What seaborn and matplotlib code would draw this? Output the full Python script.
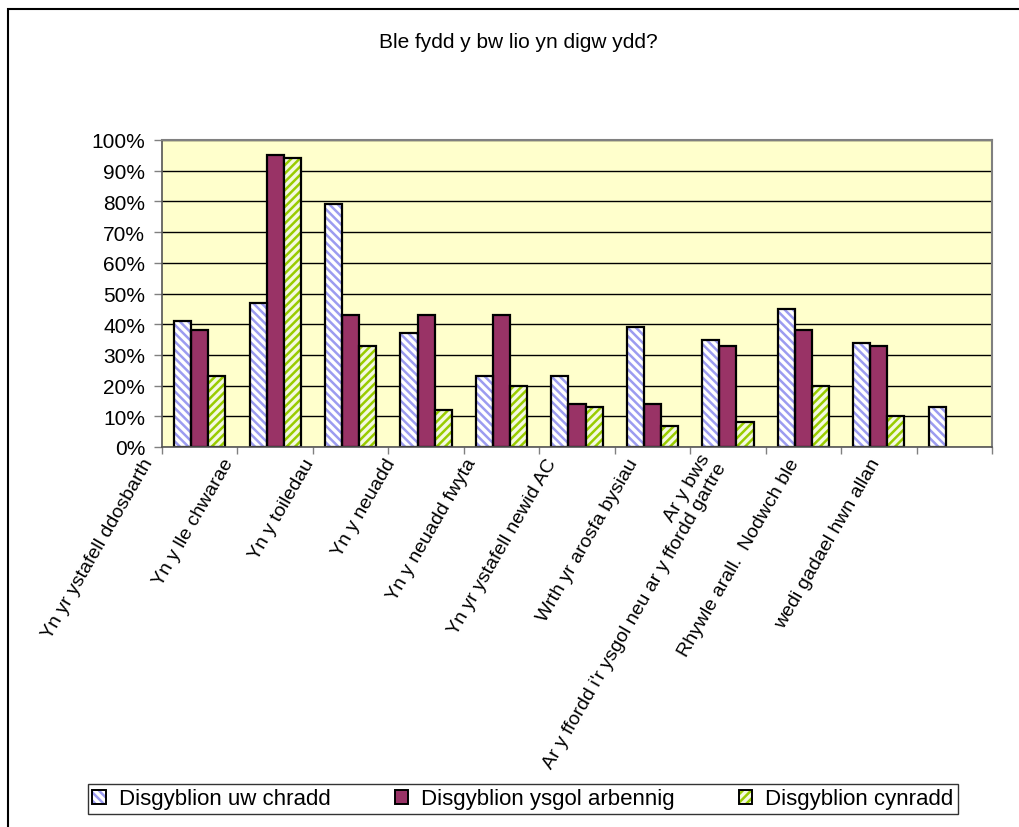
import numpy as np
import pandas as pd
import matplotlib.pyplot as plt
import matplotlib.transforms as mtransforms
from matplotlib.patches import Patch, Rectangle
from matplotlib.legend_handler import HandlerTuple
from matplotlib.ticker import PercentFormatter, FixedLocator
import seaborn as sns

places = [
    'Yn yr ystafell ddosbarth',
    'Yn y lle chwarae',
    'Yn y toiledau',
    'Yn y neuadd',
    'Yn y neuadd fwyta',
    'Yn yr ystafell newid AC',
    'Wrth yr arosfa bysiau',
    "Ar y bws\nAr y ffordd i'r ysgol neu ar y ffordd gartre",
    'Rhywle arall.  Nodwch ble',
    'wedi gadael hwn allan',
    '',
]
groups = ['Disgyblion uw chradd', 'Disgyblion ysgol arbennig', 'Disgyblion cynradd']
uwchradd = [41, 47, 79, 37, 23, 23, 39, 35, 45, 34, 13]
arbennig = [38, 95, 43, 43, 43, 14, 14, 33, 38, 33, np.nan]
cynradd = [23, 94, 33, 12, 20, 13, 7, 8, 20, 10, np.nan]
title = 'Ble fydd y bw lio yn digw ydd?'

# look of each series: face colour, hatch, hatch colour
faces = ['white', '#993366', '#F4F9E0']
hatches = ['\\\\\\\\', None, '////']
hatch_cols = ['#9C9CF0', None, '#99CC00']

df = pd.DataFrame({
    'place': places * 3,
    'pct': uwchradd + arbennig + cynradd,
    'group': np.repeat(groups, len(places)),
})

plt.rcParams['hatch.linewidth'] = 1.8
plt.rcParams['font.family'] = ['Liberation Sans', 'DejaVu Sans']

fig = plt.figure(figsize=(10.2, 8.28), dpi=100)
ax = fig.add_axes([162 / 1020, 1 - 448 / 828, 830 / 1020, 307 / 828])
ax.set_facecolor('#FFFFCC')

sns.barplot(data=df, x='place', y='pct', hue='group', order=places, hue_order=groups,
            palette=faces, saturation=1, width=0.68, edgecolor='black', linewidth=1.6,
            errorbar=None, legend=False, ax=ax)

for cont, h, hc in zip(ax.containers, hatches, hatch_cols):
    if h is None:
        continue
    for bar in cont:
        bar.set_hatch(h)
        bar.set_edgecolor(hc)
        bar.set_linewidth(0)
        ax.add_patch(Rectangle(bar.get_xy(), bar.get_width(), bar.get_height(), fill=False,
                               edgecolor='black', linewidth=1.6, zorder=bar.get_zorder() + 0.1))

ax.set_xlim(-0.5, len(places) - 0.5)
ax.set_ylim(0, 100)
ax.yaxis.set_major_locator(FixedLocator(np.arange(0, 101, 10)))
ax.yaxis.set_major_formatter(PercentFormatter(100, decimals=0))
ax.yaxis.grid(True, color='black', linewidth=1)
ax.set_axisbelow(True)
ax.set_xlabel('')
ax.set_ylabel('')

ax.xaxis.set_minor_locator(FixedLocator(np.arange(-0.5, len(places), 1)))
ax.tick_params(axis='x', which='major', length=0, pad=9, labelsize=14)
ax.tick_params(axis='x', which='minor', length=5, width=1, color='#808080')
ax.tick_params(axis='y', length=6, width=1, color='#808080', labelsize=15, pad=6)

# the original spreads its labels a bit wider than the categories
cat_w = ax.get_position().width * fig.get_figwidth() / len(places)
for i, lab in enumerate(ax.get_xticklabels()):
    lab.set_rotation(60)
    lab.set_ha('right')
    lab.set_va('center')
    lab.set_rotation_mode('anchor')
    shift = mtransforms.ScaledTranslation((-0.67 + 0.07 * i) * cat_w, 0, fig.dpi_scale_trans)
    lab.set_transform(lab.get_transform() + shift)

for side in ['left', 'bottom']:
    ax.spines[side].set_color('#555555')
    ax.spines[side].set_linewidth(1.2)
for side in ['top', 'right']:
    ax.spines[side].set_color('#808080')
    ax.spines[side].set_linewidth(1.5)

fig.text(518 / 1020, 1 - 42 / 828, title, ha='center', va='center', fontsize=15)

handles = []
for f, h, hc in zip(faces, hatches, hatch_cols):
    fill = Patch(facecolor=f, hatch=h, edgecolor=hc if hc else f, linewidth=0)
    edge = Patch(fill=False, edgecolor='black', linewidth=1.4)
    handles.append((fill, edge))
fig.legend(handles, groups, handler_map={tuple: HandlerTuple(ndivide=1)},
           loc='center', bbox_to_anchor=(88 / 1020, 1 - 815 / 828, 870 / 1020, 30 / 828),
           mode='expand', ncol=3, fontsize=16, frameon=True, fancybox=False,
           edgecolor='black', borderaxespad=0, handlelength=0.6, handleheight=0.6,
           handletextpad=0.6, borderpad=0.2)

fig.patches.append(Rectangle((8 / 1020, -0.1), 1.2, 1.1 - 10 / 828, transform=fig.transFigure,
                             fill=False, edgecolor='black', linewidth=1.5))

fig.savefig('out.png', dpi=100)
